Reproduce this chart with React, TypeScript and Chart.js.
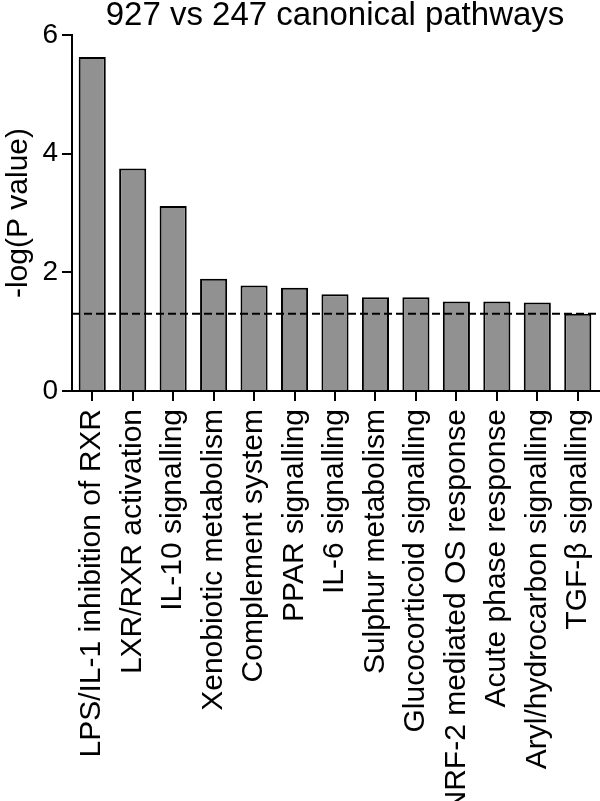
import React, { useEffect, useRef } from "react";
import { Chart, registerables } from "chart.js";

Chart.register(...registerables);

const TITLE = "927 vs 247 canonical pathways";
const Y_LABEL = "-log(P value)";
const CATEGORIES = [
  "LPS/IL-1 inhibition of RXR",
  "LXR/RXR activation",
  "IL-10 signalling",
  "Xenobiotic metabolism",
  "Complement system",
  "PPAR signalling",
  "IL-6 signalling",
  "Sulphur metabolism",
  "Glucocorticoid signalling",
  "NRF-2 mediated OS response",
  "Acute phase response",
  "Aryl/hydrocarbon signalling",
  "TGF-\u03B2 signalling",
];
const VALUES = [5.63, 3.75, 3.12, 1.89, 1.78, 1.74, 1.63, 1.58, 1.58, 1.51, 1.51, 1.49, 1.3];
const Y_TICKS = [0, 2, 4, 6];
const THRESHOLD = 1.3;

const FONT = "'Liberation Sans', Arial, Helvetica, sans-serif";

export default function App() {
  const ref = useRef<HTMLCanvasElement>(null);

  useEffect(() => {
    if (!ref.current) return;
    const thresholdPlugin = {
      id: "thresholdLine",
      afterDatasetsDraw(chart: any) {
        const { ctx, chartArea, scales } = chart;
        const y = scales.y.getPixelForValue(THRESHOLD);
        const y0 = scales.y.getPixelForValue(0);
        ctx.save();
        ctx.strokeStyle = "#000";
        ctx.lineWidth = 2;
        ctx.setLineDash([8, 4]);
        ctx.beginPath();
        ctx.moveTo(chartArea.left, y);
        ctx.lineTo(chart.width, y);
        ctx.stroke();
        ctx.setLineDash([]);
        ctx.beginPath();
        ctx.moveTo(chartArea.right - 1, y0);
        ctx.lineTo(chart.width, y0);
        ctx.stroke();
        ctx.restore();
      },
    };

    const chart = new Chart(ref.current, {
      type: "bar",
      data: {
        labels: CATEGORIES,
        datasets: [
          {
            data: VALUES,
            backgroundColor: "#919191",
            borderColor: "#000",
            borderWidth: 2,
            barPercentage: 0.67,
            categoryPercentage: 1,
          },
        ],
      },
      options: {
        responsive: false,
        animation: false,
        layout: { padding: { left: 0, right: 2, top: 0, bottom: 0 } },
        plugins: {
          legend: { display: false },
          tooltip: { enabled: false },
          title: {
            display: true,
            text: TITLE,
            fullSize: false,
            color: "#000",
            font: { family: FONT, size: 33, weight: "normal", lineHeight: 0.94 },
            padding: { top: 0, bottom: 4 },
          },
        },
        scales: {
          x: {
            type: "category",
            offset: true,
            grid: {
              offset: false,
              drawOnChartArea: false,
              drawTicks: true,
              tickLength: 10,
              color: "#000",
              lineWidth: 2,
            },
            border: { display: true, color: "#000", width: 2 },
            ticks: {
              autoSkip: false,
              maxRotation: 90,
              minRotation: 90,
              padding: 8,
              color: "#000",
              font: { family: FONT, size: 30 },
            },
            afterFit(scale: any) {
              scale.height = 410;
              scale.paddingLeft = 0;
              scale.paddingRight = 0;
            },
          },
          y: {
            type: "linear",
            min: 0,
            max: 6,
            grid: {
              drawOnChartArea: false,
              drawTicks: true,
              tickLength: 10,
              color: "#000",
              lineWidth: 2,
            },
            border: { display: true, color: "#000", width: 2 },
            ticks: {
              padding: 4,
              color: "#000",
              font: { family: FONT, size: 28 },
            },
            afterBuildTicks(scale: any) {
              scale.ticks = Y_TICKS.map((v) => ({ value: v }));
            },
            title: {
              display: true,
              text: Y_LABEL,
              color: "#000",
              padding: 0,
              font: { family: FONT, size: 30, lineHeight: 1.25 },
            },
            afterFit(scale: any) {
              scale.width = 72;
            },
          },
        },
      },
      plugins: [thresholdPlugin],
    });

    return () => chart.destroy();
  }, []);

  return (
    <div style={{ position: "absolute", left: 0, top: 0, width: 600, height: 801 }}>
      <canvas ref={ref} width={600} height={801} />
    </div>
  );
}
